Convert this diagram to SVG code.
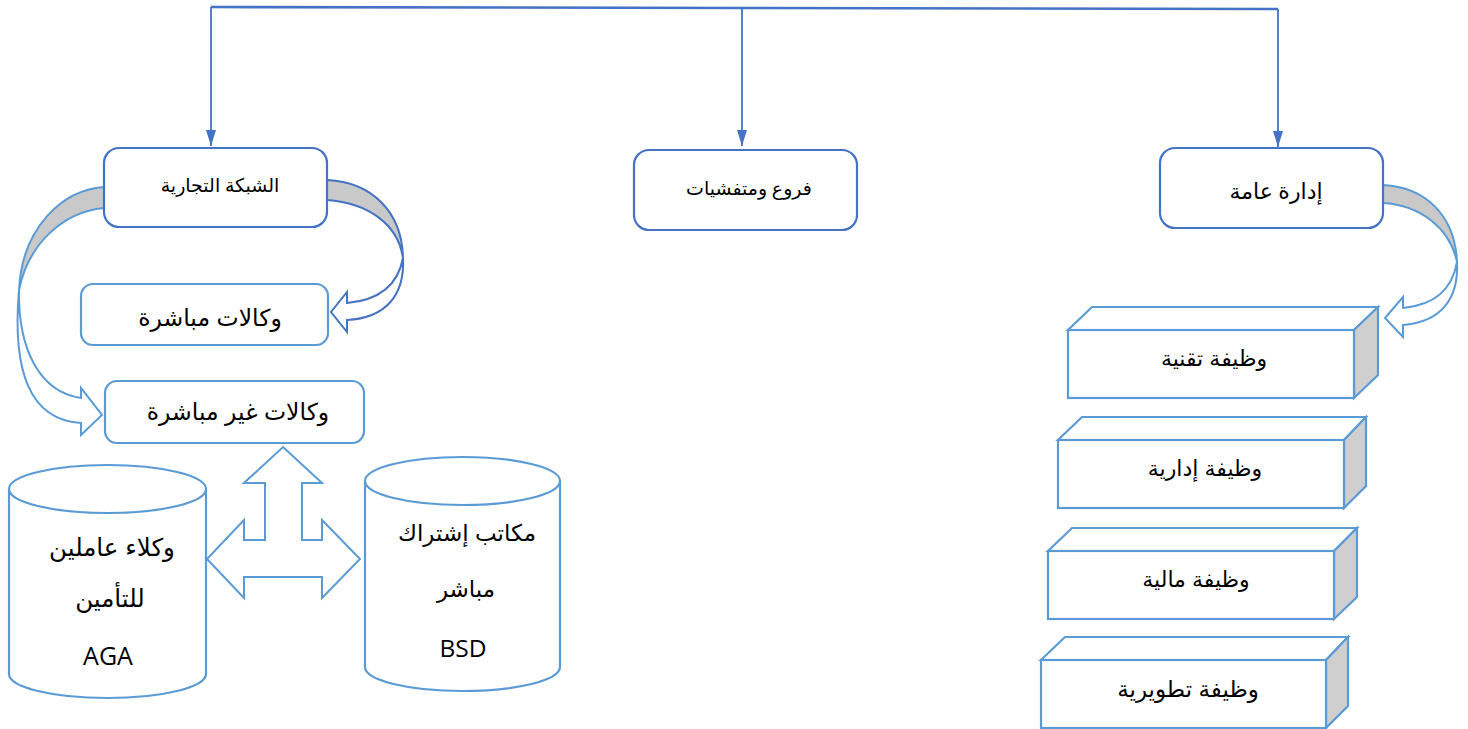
<svg xmlns="http://www.w3.org/2000/svg" width="1468" height="729" viewBox="0 0 1468 729">
  <defs>
    <marker id="tri" markerWidth="16" markerHeight="10" refX="16" refY="5" orient="auto" markerUnits="userSpaceOnUse" viewBox="0 0 16 10">
      <path d="M0,0 L16,5 L0,10 Z" fill="#4472C4"/>
    </marker>
    <style>
      .bg { fill: #ffffff; }
      .boxDark { fill: #ffffff; stroke: #4472C4; stroke-width: 2.2; }
      .boxLight { fill: #ffffff; stroke: #5B9BD5; stroke-width: 2.2; }
      .line { fill: none; stroke: #4472C4; stroke-width: 1.8; }
      .bar { fill: none; stroke: #4472C4; stroke-width: 2.6; }
      .side { fill: #CFCFCF; stroke: #5B9BD5; stroke-width: 2.2; stroke-linejoin: miter; }
      .face { fill: #ffffff; stroke: #5B9BD5; stroke-width: 2.2; stroke-linejoin: miter; }
      .shadeL { fill: #C9C9C9; stroke: #5B9BD5; stroke-width: 2; }
      .frontL { fill: #ffffff; stroke: #5B9BD5; stroke-width: 2; }
      .shadeD { fill: #C9C9C9; stroke: #4472C4; stroke-width: 2; }
      .frontD { fill: #ffffff; stroke: #4472C4; stroke-width: 2; }
      .ar { font-family: "Liberation Sans", "DejaVu Sans", sans-serif; fill: #000; text-anchor: middle; }
      .arSerif { font-family: "Liberation Serif", "DejaVu Sans", serif; fill: #000; text-anchor: middle; }
      .lat { font-family: "Open Sans", "Liberation Sans", sans-serif; fill: #000; text-anchor: middle; }
    </style>
  </defs>

  <rect class="bg" x="0" y="0" width="1468" height="729"/>

  <!-- connectors: top bus with three drops -->
  <g id="connectors">
    <path class="bar" d="M211,7 L742,8 L1278,9"/>
    <path class="line" d="M211,7 L211,146" marker-end="url(#tri)"/>
    <path class="line" d="M742,8 L742,146" marker-end="url(#tri)"/>
    <path class="line" d="M1278,9 L1278,147" marker-end="url(#tri)"/>

    <!-- curved block arrow: network -> indirect agencies -->
    <g id="curve-left">
      <path class="shadeL" d="M104,187 C 62,190 22,228 19,290 C 28,245 62,212 104,208 Z"/>
      <path class="frontL" d="M19,290 C 18,350 40,392 81,398 L81,388 L102,415 L81,435 L81,423 C 30,420 12,372 19,290 Z"/>
    </g>
    <!-- curved block arrow: network -> direct agencies -->
    <g id="curve-right">
      <path class="shadeD" d="M327,180 C 372,182 402,212 403,258 C 398,224 368,203 327,200 Z"/>
      <path class="frontD" d="M403,258 C 405,296 385,318 347,320 L347,332 L331,312 L347,292 L347,303 C 380,300 398,285 403,258 Z"/>
    </g>
    <!-- curved block arrow: general management -> functions -->
    <g id="curve-admin">
      <path class="shadeL" d="M1383,185 C 1425,187 1455,215 1457,262 C 1450,228 1420,205 1383,203 Z"/>
      <path class="frontL" d="M1457,262 C 1459,300 1440,322 1403,325 L1403,337 L1385,318 L1403,297 L1403,308 C 1435,305 1452,290 1457,262 Z"/>
    </g>
    <!-- four-way block arrow between the two cylinders -->
    <path id="quad-arrow" class="frontL" d="M283,447 L322,483 L302,483 L302,540 L322,540 L322,520 L360,559 L322,598 L322,577 L244,577 L244,598 L207,559 L244,520 L244,540 L265,540 L265,483 L244,483 Z"/>
  </g>

  <!-- top level boxes -->
  <g id="node-network">
    <rect class="boxDark" x="104" y="148" width="223" height="79" rx="15"/>
    <text class="arSerif" x="220" y="192" font-size="19">الشبكة التجارية</text>
  </g>
  <g id="node-branches">
    <rect class="boxDark" x="634" y="150" width="223" height="80" rx="15"/>
    <text class="arSerif" x="749" y="195" font-size="19">فروع ومتفشيات</text>
  </g>
  <g id="node-management">
    <rect class="boxDark" x="1160" y="148" width="223" height="80" rx="15"/>
    <text class="arSerif" x="1276" y="199" font-size="22">إدارة عامة</text>
  </g>

  <!-- agency boxes -->
  <g id="node-direct">
    <rect class="boxLight" x="81" y="284" width="247" height="61" rx="12"/>
    <text class="ar" x="210" y="326" font-size="23.5">وكالات مباشرة</text>
  </g>
  <g id="node-indirect">
    <rect class="boxLight" x="105" y="381" width="259" height="62" rx="12"/>
    <text class="ar" x="238" y="420" font-size="23.5">وكالات غير مباشرة</text>
  </g>

  <!-- cylinders -->
  <g id="node-aga">
    <path class="face" d="M9,489 L9,674 A98.5,24 0 0 0 206,674 L206,489"/>
    <ellipse class="face" cx="107.5" cy="489" rx="98.5" ry="24"/>
    <text class="ar" x="112" y="556" font-size="24.5">وكلاء عاملين</text>
    <text class="ar" x="110" y="607" font-size="24.5">للتأمين</text>
    <text class="lat" x="108" y="665" font-size="25">AGA</text>
  </g>
  <g id="node-bsd">
    <path class="face" d="M365,481 L365,667 A97.5,24 0 0 0 560,667 L560,481"/>
    <ellipse class="face" cx="462.5" cy="481" rx="97.5" ry="24"/>
    <text class="ar" x="467" y="541" font-size="23">مكاتب إشتراك</text>
    <text class="ar" x="466" y="597" font-size="23">مباشر</text>
    <text class="lat" x="463" y="657" font-size="24.5">BSD</text>
  </g>

  <!-- function blocks -->
  <g id="node-tech">
    <path class="face" d="M1068,330 L1092,307 L1378,307 L1354,330 Z"/>
    <path class="side" d="M1354,330 L1378,307 L1378,375 L1354,398 Z"/>
    <rect class="face" x="1068" y="330" width="286" height="68"/>
    <text class="ar" x="1214" y="366" font-size="22">وظيفة تقنية</text>
  </g>
  <g id="node-admin">
    <path class="face" d="M1058,440 L1082,417 L1366,417 L1344,440 Z"/>
    <path class="side" d="M1344,440 L1366,417 L1366,486 L1344,508 Z"/>
    <rect class="face" x="1058" y="440" width="286" height="68"/>
    <text class="ar" x="1205" y="476" font-size="22">وظيفة إدارية</text>
  </g>
  <g id="node-finance">
    <path class="face" d="M1048,551 L1072,528 L1357,528 L1334,551 Z"/>
    <path class="side" d="M1334,551 L1357,528 L1357,597 L1334,619 Z"/>
    <rect class="face" x="1048" y="551" width="286" height="68"/>
    <text class="ar" x="1196" y="587" font-size="22">وظيفة مالية</text>
  </g>
  <g id="node-dev">
    <path class="face" d="M1041,660 L1065,637 L1348,637 L1326,660 Z"/>
    <path class="side" d="M1326,660 L1348,637 L1348,706 L1326,728 Z"/>
    <rect class="face" x="1041" y="660" width="285" height="68"/>
    <text class="ar" x="1188" y="697" font-size="23">وظيفة تطويرية</text>
  </g>
</svg>
